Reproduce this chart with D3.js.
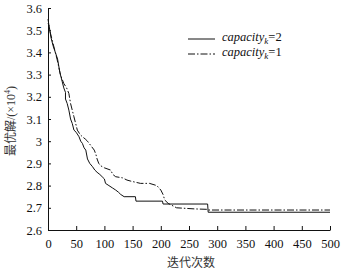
<!DOCTYPE html>
<html>
<head>
<meta charset="utf-8">
<script src="https://cdn.jsdelivr.net/npm/d3@7"></script>
<style>
    body { margin: 0; background: #fff; }
    .axis path, .axis line { stroke: #111; stroke-width: 1; }
</style>
</head>
<body>
<div id="chart"></div>
<script>
// Iterations vs best solution (x10^4)
const cap2 = [
    [0, 3.53], [2, 3.52], [5, 3.47], [9, 3.43], [13, 3.4], [17, 3.37], [21, 3.31], [25, 3.27],
    [28, 3.24], [31, 3.22], [31, 3.19], [34, 3.17], [37, 3.14], [40, 3.1], [43, 3.08], [46, 3.05],
    [50, 3.04], [55, 3.02], [58, 3.0], [61, 2.99], [64, 2.97], [67, 2.96], [70, 2.92], [74, 2.9],
    [79, 2.885], [83, 2.87], [87, 2.86], [92, 2.85], [96, 2.84], [100, 2.83], [102, 2.81],
    [108, 2.8], [114, 2.79], [120, 2.78], [125, 2.77], [129, 2.76], [135, 2.75], [155, 2.75],
    [156, 2.73], [203, 2.73], [204, 2.717], [283, 2.717], [284, 2.68], [500, 2.68]
];
const cap1 = [
    [0, 3.55], [3, 3.5], [9, 3.44], [16, 3.37], [22, 3.3], [28, 3.26], [33, 3.24], [37, 3.215],
    [40, 3.17], [43, 3.14], [46, 3.11], [49, 3.08], [52, 3.05], [57, 3.03], [61, 3.02], [66, 3.01],
    [70, 3.0], [76, 2.98], [82, 2.96], [85, 2.94], [87, 2.92], [90, 2.9], [93, 2.89], [100, 2.88],
    [111, 2.87], [115, 2.85], [120, 2.84], [132, 2.835], [140, 2.825], [147, 2.82], [164, 2.81],
    [180, 2.81], [193, 2.8], [200, 2.78], [204, 2.76], [207, 2.735], [213, 2.72], [228, 2.7],
    [260, 2.695], [283, 2.693], [284, 2.69], [500, 2.69]
];
const xTicks = [0, 50, 100, 150, 200, 250, 300, 350, 400, 450, 500];
const yTicks = [2.6, 2.7, 2.8, 2.9, 3.0, 3.1, 3.2, 3.3, 3.4, 3.5, 3.6];
const seriesNames = ["2", "1"];

const serif = "'Liberation Serif', 'Times New Roman', serif";
const cjk = "'Noto Sans CJK SC', sans-serif";

const params = {
    width: 344,
    height: 273,
    margin: {top: 8, right: 14, bottom: 43, left: 48}
};

const svg = d3.select("#chart")
    .append("svg")
    .attr("width", params.width)
    .attr("height", params.height);

const xScale = d3.scaleLinear()
    .domain([0, 500])
    .range([params.margin.left, params.width - params.margin.right]);

const yScale = d3.scaleLinear()
    .domain([2.6, 3.6])
    .range([params.height - params.margin.bottom, params.margin.top]);

svg.append("g")
    .attr("class", "axis")
    .attr("transform", `translate(0, ${params.height - params.margin.bottom})`)
    .call(d3.axisBottom(xScale).tickValues(xTicks).tickSizeInner(-4).tickSizeOuter(0).tickPadding(9))
    .attr("font-family", serif)
    .attr("font-size", 12.5)
    .call(g => g.selectAll("text").attr("dy", "0.71em").attr("fill", "#111"));

svg.append("g")
    .attr("class", "axis")
    .attr("transform", `translate(${params.margin.left}, 0)`)
    .call(d3.axisLeft(yScale).tickValues(yTicks).tickSizeInner(-3).tickSizeOuter(0).tickPadding(6)
        .tickFormat(d => String(+d.toFixed(1))))
    .attr("font-family", serif)
    .attr("font-size", 12.5)
    .call(g => g.selectAll("text").attr("fill", "#111"));

const line = d3.line()
    .x(d => xScale(d[0]))
    .y(d => yScale(d[1]));

svg.append("path")
    .datum(cap2)
    .attr("d", line)
    .attr("fill", "none")
    .attr("stroke", "#111")
    .attr("stroke-width", 1);

svg.append("path")
    .datum(cap1)
    .attr("d", line)
    .attr("fill", "none")
    .attr("stroke", "#111")
    .attr("stroke-width", 1)
    .attr("stroke-dasharray", "7,2,1.5,2");

// Legend
const legend = svg.append("g").attr("transform", "translate(188, 39)");
seriesNames.forEach((name, i) => {
    const row = legend.append("g").attr("transform", `translate(0, ${i * 15})`);
    row.append("line")
        .attr("x1", 0).attr("x2", 27)
        .attr("y1", 0).attr("y2", 0)
        .attr("stroke", "#111")
        .attr("stroke-width", 1)
        .attr("stroke-dasharray", i === 0 ? null : "7,2,1.5,2");
    const t = row.append("text")
        .attr("x", 34)
        .attr("y", 2)
        .attr("font-family", serif)
        .attr("font-size", 12.5)
        .attr("fill", "#111");
    t.append("tspan").attr("font-style", "italic").text("capacity");
    t.append("tspan").attr("font-style", "italic").attr("font-size", 9).attr("dy", 3).text("k");
    t.append("tspan").attr("dy", -3).text("=" + name);
});

// Axis titles
svg.append("text")
    .attr("x", (xScale(0) + xScale(500)) / 2 + 2)
    .attr("y", 267)
    .attr("text-anchor", "middle")
    .attr("font-family", cjk)
    .attr("font-size", 12)
    .attr("fill", "#333")
    .text("迭代次数");

const yTitle = svg.append("text")
    .attr("transform", "translate(15, 121) rotate(-90)")
    .attr("text-anchor", "middle")
    .attr("font-size", 12)
    .attr("fill", "#333");
yTitle.append("tspan").attr("font-family", cjk).text("最优解");
yTitle.append("tspan").attr("font-family", serif).text("/(×10");
yTitle.append("tspan").attr("font-family", serif).attr("font-size", 8).attr("dy", -5).text("4");
yTitle.append("tspan").attr("font-family", serif).attr("dy", 5).text(")");
</script>
</body>
</html>
